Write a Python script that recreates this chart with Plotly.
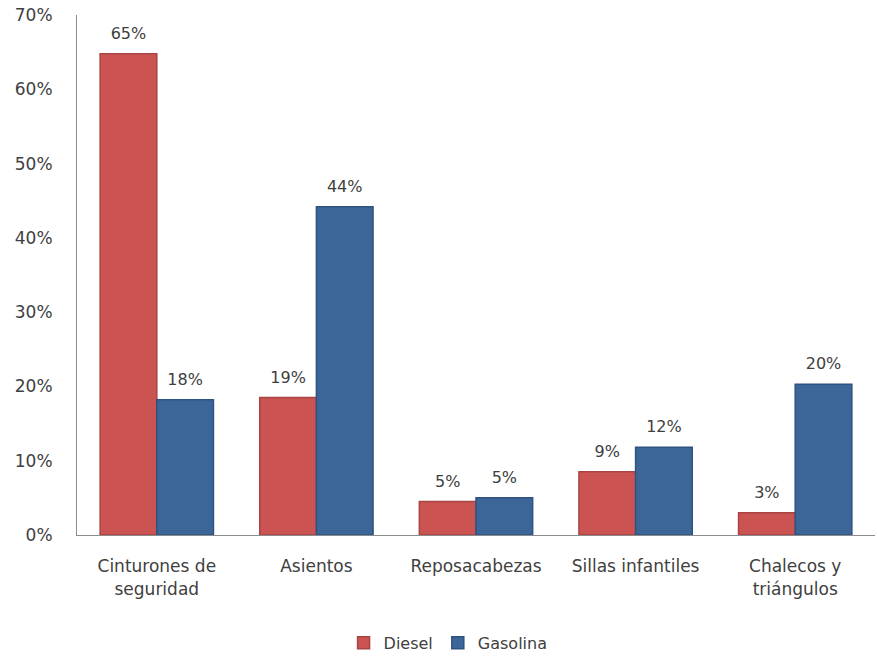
import plotly.graph_objects as go

# ── Data ──────────────────────────────────────────────────────
categories = [
    "Cinturones de<br>seguridad",
    "Asientos",
    "Reposacabezas",
    "Sillas infantiles",
    "Chalecos y<br>triángulos",
]
diesel = [64.8, 18.5, 4.5, 8.5, 3.0]
gasolina = [18.2, 44.2, 5.0, 11.8, 20.3]
diesel_labels = ["65%", "19%", "5%", "9%", "3%"]
gasolina_labels = ["18%", "44%", "5%", "12%", "20%"]
y_ticks = [0, 10, 20, 30, 40, 50, 60, 70]

FONT = "DejaVu Sans, Calibri, Arial, sans-serif"
TEXT = "#404040"
GAP = 0.29

series = [
    ("Diesel", diesel, diesel_labels, "#CB5452", "#A94444"),
    ("Gasolina", gasolina, gasolina_labels, "#3C6698", "#2F5380"),
]

fig = go.Figure()

for name, vals, labels, fill, edge in series:
    fig.add_trace(go.Bar(
        x=categories,
        y=vals,
        name=name,
        offsetgroup=name,
        alignmentgroup="a",
        marker=dict(color=fill, line=dict(color=edge, width=1.5)),
    ))

# value labels sit a little higher above the bars than bar "outside" text does
for name, vals, labels, fill, edge in series:
    fig.add_trace(go.Scatter(
        x=categories,
        y=vals,
        mode="markers+text",
        text=labels,
        textposition="top center",
        textfont=dict(size=16, color=TEXT, family=FONT),
        marker=dict(size=16, opacity=0),
        offsetgroup=name,
        alignmentgroup="a",
        showlegend=False,
        hoverinfo="skip",
        cliponaxis=False,
    ))

fig.update_layout(
    width=877,
    height=656,
    barmode="group",
    bargap=GAP,
    bargroupgap=0,
    scattermode="group",
    scattergap=GAP,
    paper_bgcolor="white",
    plot_bgcolor="white",
    margin=dict(l=77, r=2, t=15, b=121),
    font=dict(family=FONT, size=16, color=TEXT),
    showlegend=True,
    legend=dict(
        orientation="h",
        xanchor="center",
        x=0.465,
        yref="container",
        yanchor="middle",
        y=0.02,
        font=dict(size=16, color=TEXT, family=FONT),
        itemwidth=30,
        tracegroupgap=0,
    ),
)

fig.update_xaxes(
    showline=True,
    linecolor="#8c8c8c",
    linewidth=1,
    ticks="",
    showgrid=False,
    automargin=False,
    tickfont=dict(size=17, color=TEXT, family=FONT),
    ticklabelstandoff=16,
)
fig.update_yaxes(
    range=[0, 70],
    tickvals=y_ticks,
    ticktext=[f"{v}%" for v in y_ticks],
    showline=True,
    linecolor="#8c8c8c",
    linewidth=1,
    showgrid=False,
    zeroline=False,
    ticks="",
    automargin=False,
    tickfont=dict(size=17, color=TEXT, family=FONT),
    ticklabelstandoff=20,
)

# drop the default page margin so the figure starts at the window's corner
fig.write_html(
    "out.html",
    config={"displayModeBar": False},
    post_script="document.body.style.margin='0';",
)
